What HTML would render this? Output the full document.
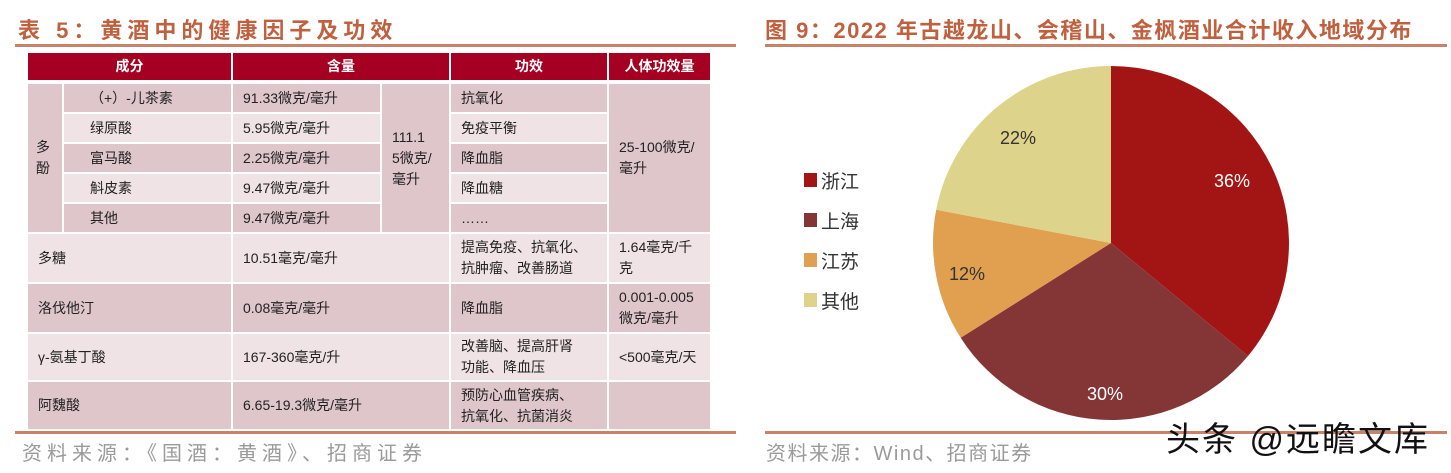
<!DOCTYPE html>
<html><head><meta charset="utf-8"><style>
*{margin:0;padding:0;box-sizing:border-box}
body{width:1451px;height:473px;background:#fff;position:relative;overflow:hidden;font-family:"Liberation Sans","Noto Sans CJK SC",sans-serif}
.a{position:absolute}
.t{font-size:22px;font-weight:bold;color:#C0603F;top:13px;white-space:nowrap}
.rule{height:3px;background:#C8826A}
.c{position:absolute;display:flex;align-items:center;padding-left:10px;font-size:14px;color:#222;line-height:1.5;border-right:2px solid #fff;border-bottom:2px solid #fff}
.h{background:#A50021;color:#fff;font-weight:bold;justify-content:center;padding:0}
.d{background:#DEC6CB}.l{background:#EFE3E5}
.src{font-size:20px;color:#9a9a9a;top:437px;white-space:nowrap;letter-spacing:2px}
</style></head><body>
<div class="a t" style="left:18px;letter-spacing:5px">表 5：黄酒中的健康因子及功效</div>
<div class="a rule" style="left:15px;top:44px;width:721px"></div>

<div class="c h" style="left:28px;top:53px;width:205px;height:29px">成分</div>
<div class="c h" style="left:233px;top:53px;width:218px;height:29px">含量</div>
<div class="c h" style="left:451px;top:53px;width:158px;height:29px">功效</div>
<div class="c h" style="left:609px;top:53px;width:103px;height:29px">人体功效量</div>

<div class="c d" style="left:28px;top:84px;width:36px;height:150px;padding-left:8px">多<br>酚</div>
<div class="c d" style="left:64px;top:84px;width:169px;height:30px;padding-left:26px">（+）-儿茶素</div>
<div class="c l" style="left:64px;top:114px;width:169px;height:30px;padding-left:26px">绿原酸</div>
<div class="c d" style="left:64px;top:144px;width:169px;height:30px;padding-left:26px">富马酸</div>
<div class="c l" style="left:64px;top:174px;width:169px;height:30px;padding-left:26px">斛皮素</div>
<div class="c d" style="left:64px;top:204px;width:169px;height:30px;padding-left:26px">其他</div>
<div class="c d" style="left:233px;top:84px;width:149px;height:30px">91.33微克/毫升</div>
<div class="c l" style="left:233px;top:114px;width:149px;height:30px">5.95微克/毫升</div>
<div class="c d" style="left:233px;top:144px;width:149px;height:30px">2.25微克/毫升</div>
<div class="c l" style="left:233px;top:174px;width:149px;height:30px">9.47微克/毫升</div>
<div class="c d" style="left:233px;top:204px;width:149px;height:30px">9.47微克/毫升</div>
<div class="c d" style="left:382px;top:84px;width:69px;height:150px">111.1<br>5微克/<br>毫升</div>
<div class="c d" style="left:451px;top:84px;width:158px;height:30px">抗氧化</div>
<div class="c l" style="left:451px;top:114px;width:158px;height:30px">免疫平衡</div>
<div class="c d" style="left:451px;top:144px;width:158px;height:30px">降血脂</div>
<div class="c l" style="left:451px;top:174px;width:158px;height:30px">降血糖</div>
<div class="c d" style="left:451px;top:204px;width:158px;height:30px">……</div>
<div class="c d" style="left:609px;top:84px;width:103px;height:150px">25-100微克/<br>毫升</div>

<div class="c l" style="left:28px;top:234px;width:205px;height:50px">多糖</div>
<div class="c l" style="left:233px;top:234px;width:218px;height:50px">10.51毫克/毫升</div>
<div class="c l" style="left:451px;top:234px;width:158px;height:50px">提高免疫、抗氧化、<br>抗肿瘤、改善肠道</div>
<div class="c l" style="left:609px;top:234px;width:103px;height:50px">1.64毫克/千<br>克</div>

<div class="c d" style="left:28px;top:284px;width:205px;height:50px">洛伐他汀</div>
<div class="c d" style="left:233px;top:284px;width:218px;height:50px">0.08毫克/毫升</div>
<div class="c d" style="left:451px;top:284px;width:158px;height:50px">降血脂</div>
<div class="c d" style="left:609px;top:284px;width:103px;height:50px">0.001-0.005<br>微克/毫升</div>

<div class="c l" style="left:28px;top:334px;width:205px;height:48px">γ-氨基丁酸</div>
<div class="c l" style="left:233px;top:334px;width:218px;height:48px">167-360毫克/升</div>
<div class="c l" style="left:451px;top:334px;width:158px;height:48px">改善脑、提高肝肾<br>功能、降血压</div>
<div class="c l" style="left:609px;top:334px;width:103px;height:48px">&lt;500毫克/天</div>

<div class="c d" style="left:28px;top:382px;width:205px;height:49px">阿魏酸</div>
<div class="c d" style="left:233px;top:382px;width:218px;height:49px">6.65-19.3微克/毫升</div>
<div class="c d" style="left:451px;top:382px;width:158px;height:49px">预防心血管疾病、<br>抗氧化、抗菌消炎</div>
<div class="c d" style="left:609px;top:382px;width:103px;height:49px"></div>

<div class="a rule" style="left:15px;top:431px;width:721px"></div>
<div class="a src" style="left:22px;letter-spacing:5px">资料来源：《国酒：黄酒》、招商证券</div>

<div class="a t" style="left:765px;letter-spacing:1.5px">图 9：2022 年古越龙山、会稽山、金枫酒业合计收入地域分布</div>
<div class="a rule" style="left:765px;top:44px;width:682px"></div>

<svg class="a" style="left:0;top:0" width="1451" height="473">
<path d="M1111,243 L1111,66 A178,177 0 0 1 1248,356 Z" fill="#A31515"/>
<path d="M1111,243 L1248,356 A178,177 0 0 1 960.7,337.8 Z" fill="#843636"/>
<path d="M1111,243 L960.7,337.8 A178,177 0 0 1 936.2,209.8 Z" fill="#E0A050"/>
<path d="M1111,243 L936.2,209.8 A178,177 0 0 1 1111,66 Z" fill="#DED38A"/>
<g font-family="Liberation Sans, sans-serif" font-size="18">
<text x="1232" y="187" fill="#fff" text-anchor="middle">36%</text>
<text x="1105" y="400" fill="#fff" text-anchor="middle">30%</text>
<text x="967" y="280" fill="#333" text-anchor="middle">12%</text>
<text x="1018" y="144" fill="#333" text-anchor="middle">22%</text>
</g>
<rect x="804" y="173" width="13" height="14" fill="#A31515"/>
<rect x="804" y="213" width="13" height="14" fill="#843636"/>
<rect x="804" y="253" width="13" height="14" fill="#E0A050"/>
<rect x="804" y="293" width="13" height="14" fill="#DED38A"/>
<g font-family="Liberation Sans, Noto Sans CJK SC, sans-serif" font-size="19" fill="#333">
<text x="821" y="188">浙江</text><text x="821" y="228">上海</text><text x="821" y="268">江苏</text><text x="821" y="308">其他</text>
</g>
</svg>

<div class="a rule" style="left:765px;top:431px;width:682px"></div>
<div class="a src" style="left:766px;letter-spacing:1.5px">资料来源：Wind、招商证券</div>
<div class="a" style="left:1166px;top:412px;font-size:34px;color:#111;white-space:nowrap;letter-spacing:2px">头条 @远瞻文库</div>
</body></html>
